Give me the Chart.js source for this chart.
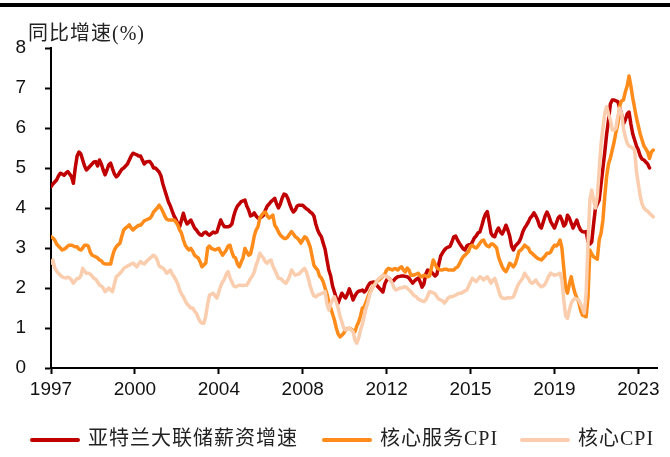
<!DOCTYPE html>
<html>
<head>
<meta charset="utf-8">
<script src="https://cdn.jsdelivr.net/npm/chart.js@4.4.0/dist/chart.umd.min.js"></script>
<style>
  html, body { margin: 0; padding: 0; background: #fff; }
  #wrap { position: relative; width: 670px; height: 457px; overflow: hidden; }
  #topRule { position: absolute; left: 0; top: 3px; width: 670px; height: 4px; background: #000; }
  #unit { position: absolute; left: 28px; top: 17px; font: 20px "Liberation Serif", "Noto Sans CJK SC", serif; letter-spacing: 1px; color: #222; }
  #legend { position: absolute; top: 426px; left: 0; width: 670px; height: 24px; font: 20px "Liberation Serif", "Noto Sans CJK SC", serif; letter-spacing: 1px; color: #222; }
  .item { position: absolute; top: 0; line-height: 24px; white-space: nowrap; }
  .item i { display: inline-block; width: 50px; height: 4px; vertical-align: middle; margin-right: 8px; border-radius: 2px; }
</style>
</head>
<body>
<div id="wrap">
  <canvas id="chart" width="670" height="457"></canvas>
  <div id="topRule"></div>
  <div id="unit">同比增速(%)</div>
  <div id="legend"></div>
</div>
<script>
// Monthly data, Jan 1997 onwards
const startYear = 1997;
const xTickLabels = ["1997", "2000", "2004", "2008", "2012", "2015", "2019", "2023"];
const monthsPerTick = 45;

// 亚特兰大联储薪资增速
const wageGrowth = [
    4.53, 4.6, 4.65, 4.7, 4.8, 4.87, 4.85, 4.82, 4.87, 4.91, 4.85, 4.78,
    4.62, 5.0, 5.3, 5.4, 5.35, 5.2, 5.05, 4.95, 5.0, 5.05, 5.1, 5.15,
    5.16, 5.05, 5.2, 5.1, 4.95, 4.83, 4.95, 5.08, 5.12, 4.98, 4.85, 4.78,
    4.82, 4.9, 4.97, 5.0, 5.05, 5.1, 5.2, 5.3, 5.37, 5.35, 5.33, 5.3,
    5.3, 5.2, 5.1, 5.15, 5.16, 5.16, 5.1, 5.0, 5.0, 4.95, 4.9, 4.8,
    4.6, 4.45, 4.3, 4.15, 4.05, 3.92, 3.8, 3.72, 3.6, 3.53, 3.7, 3.87,
    3.7, 3.6, 3.65, 3.7, 3.6, 3.5, 3.45, 3.38, 3.33, 3.32, 3.38, 3.4,
    3.35, 3.32, 3.36, 3.4, 3.38, 3.4, 3.55, 3.7, 3.6, 3.53, 3.53, 3.53,
    3.55, 3.6, 3.8, 3.95, 4.05, 4.1, 4.16, 4.18, 4.2, 4.05, 3.95, 3.8,
    3.82, 3.88, 3.8, 3.75, 3.75, 3.78, 3.82, 3.95, 4.05, 4.1, 4.16, 4.2,
    4.24, 4.1, 4.0, 4.1, 4.25, 4.35, 4.33, 4.24, 4.1, 3.98, 3.9, 3.95,
    4.05, 4.07, 4.07, 4.07, 4.02, 3.98, 3.95, 3.9, 3.87, 3.8, 3.6, 3.45,
    3.35, 3.28, 3.12, 2.97, 2.7, 2.45, 2.3, 2.05, 1.9, 1.75, 1.62, 1.75,
    1.87, 1.8, 1.75, 1.85, 1.98, 1.85, 1.7, 1.8, 1.88, 1.92, 1.93, 1.95,
    1.9, 1.95, 2.05, 2.12, 2.14, 2.15, 2.12, 2.05, 2.0, 1.95, 1.9, 2.1,
    2.2, 2.25, 2.2, 2.15, 2.2, 2.25, 2.28, 2.29, 2.3, 2.3, 2.29, 2.28,
    2.25, 2.18, 2.12, 2.18, 2.22, 2.25, 2.15, 2.02, 2.1, 2.35, 2.45, 2.43,
    2.4, 2.35, 2.3, 2.35, 2.6, 2.8, 2.88, 2.95, 3.0, 3.02, 3.04, 3.15,
    3.28, 3.3, 3.2, 3.12, 3.05, 2.98, 2.95, 3.05, 3.08, 3.07, 3.15, 3.25,
    3.3, 3.38, 3.4, 3.55, 3.72, 3.85, 3.91, 3.65, 3.37, 3.3, 3.28, 3.42,
    3.5, 3.4, 3.35, 3.45, 3.57, 3.45, 3.3, 3.05, 2.95, 3.05, 3.1, 3.15,
    3.25, 3.4, 3.5, 3.57, 3.65, 3.75, 3.8, 3.88, 3.8, 3.7, 3.55, 3.5,
    3.65, 3.8, 3.9, 3.8, 3.66, 3.58, 3.5, 3.62, 3.75, 3.8, 3.7, 3.55,
    3.6, 3.82, 3.75, 3.62, 3.5, 3.6, 3.7, 3.55, 3.45, 3.41, 3.4, 3.41,
    3.16, 3.1, 3.15, 3.6, 4.0, 4.1, 4.2, 4.6, 5.0, 5.4, 5.85, 6.2,
    6.6, 6.7, 6.7, 6.68, 6.66, 6.5, 6.35, 6.1, 6.2, 6.35, 6.4, 6.1,
    5.85, 5.7, 5.55, 5.45, 5.3, 5.22, 5.2, 5.15, 5.1, 5.0
];

// 核心服务CPI
const coreServicesCpi = [
    3.28, 3.25, 3.2, 3.1, 3.05, 3.0, 2.95, 2.97, 3.0, 3.05, 3.07, 3.07,
    3.05, 3.03, 3.03, 2.97, 2.95, 3.0, 3.07, 3.07, 3.05, 2.9, 2.82, 2.8,
    2.78, 2.75, 2.7, 2.68, 2.62, 2.6, 2.6, 2.6, 2.6, 2.8, 2.95, 3.03,
    3.08, 3.12, 3.3, 3.45, 3.5, 3.53, 3.58, 3.5, 3.45, 3.5, 3.53, 3.57,
    3.57, 3.62, 3.68, 3.7, 3.72, 3.74, 3.8, 3.9, 3.95, 4.0, 4.07, 4.0,
    3.91, 3.8, 3.72, 3.7, 3.7, 3.7, 3.7, 3.65, 3.57, 3.45, 3.37, 3.2,
    3.07, 3.0, 2.95, 2.99, 2.92, 2.82, 2.78, 2.75, 2.65, 2.53, 2.58, 2.62,
    3.0, 3.05, 2.99, 2.97, 2.95, 2.97, 2.99, 2.9, 2.82, 2.88, 2.95, 3.05,
    3.07, 2.9, 2.78, 2.75, 2.6, 2.53, 2.65, 2.75, 2.99, 2.9, 2.82, 2.85,
    3.05, 3.3, 3.45, 3.53, 3.75, 3.82, 3.88, 3.9, 3.8, 3.75, 3.78, 3.82,
    3.57, 3.5, 3.4, 3.32, 3.28, 3.24, 3.24, 3.28, 3.35, 3.41, 3.35, 3.28,
    3.25, 3.2, 3.12, 3.2, 3.28, 3.25, 3.15, 3.03, 2.8, 2.57, 2.5, 2.45,
    2.3, 2.25, 2.15, 2.0, 1.85, 1.65, 1.5, 1.35, 1.2, 1.0, 0.85, 0.78,
    0.82, 0.87, 0.95, 0.99, 0.99, 0.97, 0.93, 0.91, 1.05, 1.15, 1.3, 1.5,
    1.53, 1.65, 1.78, 1.9, 1.98, 2.07, 2.12, 2.18, 2.2, 2.25, 2.3, 2.35,
    2.45, 2.49, 2.47, 2.45, 2.48, 2.48, 2.45, 2.5, 2.53, 2.45, 2.4, 2.5,
    2.45, 2.32, 2.32, 2.33, 2.35, 2.37, 2.3, 2.28, 2.32, 2.3, 2.28, 2.3,
    2.5, 2.7, 2.6, 2.5, 2.47, 2.45, 2.45, 2.47, 2.47, 2.45, 2.45, 2.45,
    2.45, 2.5, 2.52, 2.6, 2.7, 2.78, 2.82, 2.87, 2.92, 3.05, 3.07, 3.02,
    3.0, 3.05, 3.12, 3.18, 3.2, 3.1, 3.05, 3.03, 3.1, 3.1, 3.05, 3.0,
    2.78, 2.65, 2.53, 2.45, 2.41, 2.5, 2.62, 2.58, 2.53, 2.6, 2.75, 2.92,
    2.95, 3.0, 3.07, 3.03, 3.0, 2.9, 2.87, 2.82, 2.78, 2.74, 2.72, 2.7,
    2.75, 2.8, 2.87, 2.87, 2.9, 3.0, 3.07, 3.05, 3.1, 3.2, 3.0, 2.5,
    2.0, 1.87, 2.1, 2.28, 2.05, 1.87, 1.75, 1.66, 1.45, 1.32, 1.3, 1.28,
    1.78, 2.95, 2.85, 2.78, 2.75, 2.72, 3.2, 3.37, 3.7, 4.3, 4.8, 5.1,
    5.25, 5.45, 5.65, 5.9, 6.1, 6.55, 6.68, 6.7, 6.9, 7.05, 7.3, 7.05,
    6.75, 6.5, 6.25, 6.05, 5.85, 5.7, 5.55, 5.48, 5.4, 5.24, 5.4, 5.45
];

// 核心CPI
const coreCpi = [
    2.62, 2.7, 2.5, 2.42, 2.37, 2.32, 2.28, 2.26, 2.25, 2.27, 2.25, 2.2,
    2.12, 2.18, 2.24, 2.24, 2.3, 2.49, 2.42, 2.37, 2.37, 2.35, 2.3, 2.24,
    2.22, 2.15, 2.07, 2.05, 2.0, 1.91, 1.95, 2.0, 1.95, 1.91, 2.1, 2.28,
    2.32, 2.37, 2.42, 2.49, 2.52, 2.55, 2.57, 2.6, 2.62, 2.58, 2.53, 2.6,
    2.66, 2.62, 2.6, 2.65, 2.7, 2.74, 2.78, 2.82, 2.78, 2.7, 2.55, 2.52,
    2.5, 2.45, 2.37, 2.4, 2.45, 2.35, 2.28, 2.2, 2.1, 1.95, 1.85, 1.78,
    1.68, 1.6, 1.55, 1.5, 1.5, 1.42, 1.37, 1.25, 1.16, 1.12, 1.12, 1.3,
    1.6, 1.82, 1.85, 1.87, 1.8, 1.75, 1.9, 2.05, 2.15, 2.22, 2.35, 2.41,
    2.25, 2.16, 2.05, 2.03, 2.05, 2.07, 2.07, 2.06, 2.07, 2.07, 2.15, 2.24,
    2.3, 2.4, 2.57, 2.7, 2.87, 2.8, 2.74, 2.65, 2.62, 2.68, 2.7, 2.55,
    2.45, 2.35, 2.24, 2.24, 2.2, 2.15, 2.12, 2.2, 2.3, 2.45, 2.38, 2.32,
    2.34, 2.35, 2.4, 2.45, 2.49, 2.4, 2.24, 2.05, 1.91, 1.8, 1.78, 1.82,
    1.84, 1.86, 1.88, 1.91, 1.6, 1.45, 1.6, 1.7, 1.78, 1.65, 1.5, 1.3,
    1.15, 1.0, 0.95, 0.98, 1.0, 0.95, 0.91, 0.7, 0.62, 0.75, 0.95, 1.1,
    1.3, 1.5, 1.65, 1.85, 1.95, 2.05, 2.1, 2.2, 2.24, 2.28, 2.32, 2.3,
    2.3, 2.25, 2.2, 2.12, 2.0, 1.95, 1.97, 2.0, 2.0, 2.02, 2.03, 2.0,
    1.95, 1.91, 1.85, 1.8, 1.78, 1.72, 1.7, 1.68, 1.66, 1.7, 1.8, 1.91,
    1.9, 1.88, 1.85, 1.78, 1.72, 1.7, 1.68, 1.62, 1.68, 1.75, 1.78, 1.78,
    1.8, 1.82, 1.85, 1.87, 1.87, 1.9, 1.93, 1.95, 2.05, 2.15, 2.24, 2.2,
    2.16, 2.22, 2.28, 2.25, 2.2, 2.25, 2.28, 2.2, 2.12, 2.2, 2.24, 2.1,
    1.95, 1.8, 1.75, 1.74, 1.74, 1.76, 1.75, 1.76, 1.78, 1.9, 2.03, 2.12,
    2.18, 2.25, 2.37, 2.3, 2.24, 2.15, 2.12, 2.15, 2.2, 2.12, 2.07, 2.03,
    2.05, 2.1, 2.2, 2.3, 2.37, 2.34, 2.32, 2.33, 2.35, 2.37, 2.2, 1.7,
    1.3, 1.24, 1.45, 1.62, 1.7, 1.74, 1.72, 1.7, 1.6, 1.5, 1.37, 1.87,
    3.12, 4.2, 4.45, 4.2, 4.0, 4.3, 4.95, 5.6, 6.0, 6.37, 6.53, 6.35,
    6.2, 5.95, 5.95, 6.0, 6.3, 6.49, 6.37, 6.0, 5.78, 5.62, 5.55, 5.53,
    5.5, 5.45, 4.9, 4.6, 4.3, 4.1, 4.0, 3.95, 3.92, 3.87, 3.82, 3.78
];

const series = [
    { label: "亚特兰大联储薪资增速", values: wageGrowth, color: "#C00000", order: 3 },
    { label: "核心服务CPI", values: coreServicesCpi, color: "#FF8C1A", order: 2 },
    { label: "核心CPI", values: coreCpi, color: "#F9CDAD", order: 1 },
];

// Legend (HTML, positioned like the original)
const legendLeft = [30, 322, 520];
const legendBox = document.getElementById("legend");
series.forEach((s, i) => {
    const item = document.createElement("div");
    item.className = "item";
    item.style.left = legendLeft[i] + "px";
    item.innerHTML = `<i style="background:${s.color}"></i>${s.label}`;
    legendBox.appendChild(item);
});

const tickFont = { family: "'Liberation Sans', Arial, sans-serif", size: 19 };

new Chart(document.getElementById("chart").getContext("2d"), {
    type: "line",
    data: {
        datasets: series.map(s => ({
            label: s.label,
            data: s.values.map((v, i) => ({ x: i, y: v })),
            borderColor: s.color,
            backgroundColor: s.color,
            borderWidth: 3.5,
            borderJoinStyle: "round",
            borderCapStyle: "round",
            pointRadius: 0,
            tension: 0,
            order: s.order,
        })),
    },
    options: {
        responsive: false,
        animation: false,
        layout: { padding: { top: 48, right: 13, bottom: 57, left: 0 } },
        plugins: { legend: { display: false }, tooltip: { enabled: false } },
        scales: {
            x: {
                type: "linear",
                min: 0,
                max: 325,
                afterFit: s => { s.height = 32; },
                afterBuildTicks: s => {
                    s.ticks = xTickLabels.map((t, i) => ({ value: i * monthsPerTick }));
                },
                ticks: {
                    autoSkip: false,
                    maxRotation: 0,
                    padding: 4,
                    color: "#111",
                    font: tickFont,
                    callback: v => xTickLabels[Math.round(v / monthsPerTick)],
                },
                grid: { drawOnChartArea: false, tickLength: 6, tickWidth: 2, tickColor: "#000" },
                border: { color: "#000", width: 2 },
            },
            y: {
                min: 0,
                max: 8,
                afterFit: s => { s.width = 51; },
                ticks: { stepSize: 1, padding: 19, color: "#111", font: tickFont },
                grid: { drawOnChartArea: false, tickLength: 6, tickWidth: 2, tickColor: "#000" },
                border: { color: "#000", width: 2 },
            },
        },
    },
});
</script>
</body>
</html>
